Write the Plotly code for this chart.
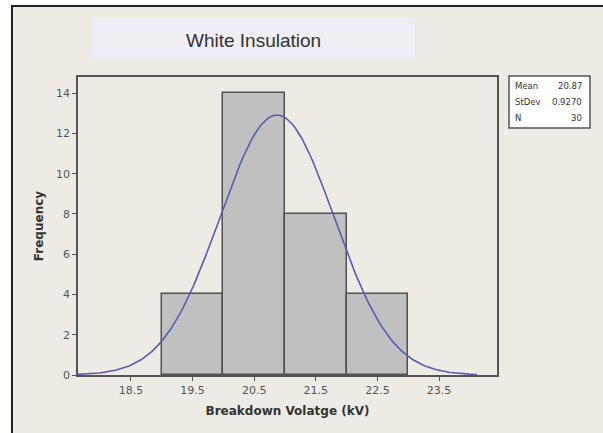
"""
Histogram of breakdown voltage with fitted normal curve (Minitab style).
"""

import math

import plotly.graph_objects as go


# Histogram data
bin_centers = [19.5, 20.5, 21.5, 22.5]
bin_counts = [4, 14, 8, 4]
bin_width = 1.0

# Summary statistics shown in the stats box
stat_labels = ["Mean", "StDev", "N"]
stat_values = ["20.87", "0.9270", "30"]
mean = 20.87
stdev = 0.9270
n_obs = 30

x_ticks = [18.5, 19.5, 20.5, 21.5, 22.5, 23.5]
y_ticks = [0, 2, 4, 6, 8, 10, 12, 14]

W, H = 603, 433
L, R, T, B = 78, 497, 77, 375  # plot area in pixels


def px(x):
    return (x - L) / (R - L)


def py(y):
    return (B - y) / (B - T)


# fitted normal curve from the stats above
curve_x = [mean - 3.5 * stdev + i * 7 * stdev / 200 for i in range(201)]
curve_y = [
    n_obs * bin_width / (stdev * math.sqrt(2 * math.pi))
    * math.exp(-0.5 * ((x - mean) / stdev) ** 2)
    for x in curve_x
]

fig = go.Figure()
fig.add_trace(
    go.Bar(
        x=bin_centers,
        y=bin_counts,
        width=bin_width,
        marker=dict(color="#C0C0C0", line=dict(color="#505050", width=1.5)),
        hoverinfo="x+y",
    )
)
fig.add_trace(
    go.Scatter(
        x=curve_x,
        y=curve_y,
        mode="lines",
        line=dict(color="#5a5ab4", width=1.6),
    )
)

shapes = [
    # outer panel with dark top/left edge
    dict(type="rect", xref="paper", yref="paper",
         x0=px(11), x1=px(W + 2), y0=py(H + 2), y1=py(5),
         fillcolor="#222222", line=dict(width=0), layer="below"),
    dict(type="rect", xref="paper", yref="paper",
         x0=px(13), x1=px(W + 2), y0=py(H + 2), y1=py(7),
         fillcolor="#EEEBE4", line=dict(width=0), layer="below"),
    # title box
    dict(type="rect", xref="paper", yref="paper",
         x0=px(92), x1=px(415), y0=py(60), y1=py(18),
         fillcolor="#EEEEF4", line=dict(width=0), layer="below"),
    # stats box
    dict(type="rect", xref="paper", yref="paper",
         x0=px(509), x1=px(590), y0=py(128), y1=py(76),
         fillcolor="white", line=dict(color="#555555", width=1.5)),
]

annotations = [
    dict(text="White Insulation", xref="paper", yref="paper",
         x=px(253), y=py(41), xanchor="center", yanchor="middle", showarrow=False,
         font=dict(family="Liberation Sans, Arial", size=19, color="#333333")),
]
for i, (lab, val) in enumerate(zip(stat_labels, stat_values)):
    ypos = py(86 + i * 16)
    annotations.append(dict(text=lab, xref="paper", yref="paper",
                            x=px(513), y=ypos, xanchor="left", yanchor="middle",
                            showarrow=False,
                            font=dict(family="DejaVu Sans", size=8.5, color="#333333")))
    annotations.append(dict(text=val, xref="paper", yref="paper",
                            x=px(584), y=ypos, xanchor="right", yanchor="middle",
                            showarrow=False,
                            font=dict(family="DejaVu Sans", size=8.5, color="#333333")))

axis_font = dict(family="DejaVu Sans", size=11, color="#555555")

fig.update_layout(
    width=W,
    height=H,
    margin=dict(l=L, r=W - R, t=T, b=H - B),
    paper_bgcolor="white",
    plot_bgcolor="white",
    showlegend=False,
    bargap=0,
    shapes=shapes,
    annotations=annotations,
    xaxis=dict(
        range=[17.64, 24.44],
        tickvals=x_ticks,
        ticktext=[f"{t:.1f}" for t in x_ticks],
        ticks="outside", ticklen=4, tickcolor="#555555",
        showline=True, linecolor="#555555", linewidth=1.5, mirror=True,
        showgrid=False, zeroline=False,
        tickfont=axis_font,
        title=dict(text="<b>Breakdown Volatge (kV)</b>", standoff=11,
                   font=dict(family="DejaVu Sans", size=12, color="#333333")),
    ),
    yaxis=dict(
        range=[0, 14.8],
        tickvals=y_ticks,
        ticks="outside", ticklen=4, tickcolor="#555555",
        showline=True, linecolor="#555555", linewidth=1.5, mirror=True,
        showgrid=False, zeroline=False,
        tickfont=axis_font,
        title=dict(text="<b>Frequency</b>", standoff=10,
                   font=dict(family="DejaVu Sans", size=12, color="#333333")),
    ),
)

# drop the default page margin so the figure sits at the window corner
fig.write_html(
    "out.html",
    config={"displayModeBar": False},
    post_script="document.body.style.margin = '0';",
)
